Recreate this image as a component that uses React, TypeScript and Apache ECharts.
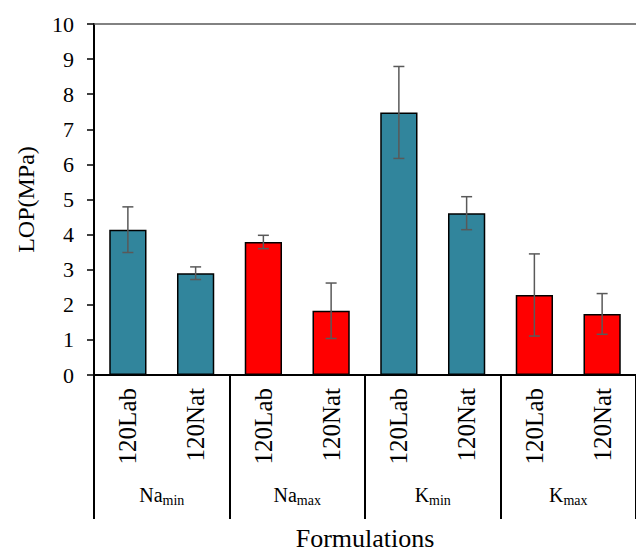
import React, { useEffect, useRef } from "react";
import * as echarts from "echarts";

const categories = ["120Lab", "120Nat", "120Lab", "120Nat", "120Lab", "120Nat", "120Lab", "120Nat"];
const groups = ["Na{sub|min}", "Na{sub|max}", "K{sub|min}", "K{sub|max}"];
const values = [4.14, 2.9, 3.79, 1.83, 7.48, 4.61, 2.28, 1.74];
const errors = [0.65, 0.18, 0.19, 0.79, 1.31, 0.47, 1.17, 0.58];
const barColors = ["#31859C", "#31859C", "#FF0000", "#FF0000", "#31859C", "#31859C", "#FF0000", "#FF0000"];
const yTicks = { min: 0, max: 10, interval: 1 };

const FONT = "Liberation Serif";

export default function App() {
  const ref = useRef<HTMLDivElement>(null);
  useEffect(() => {
    if (!ref.current) return;
    const chart = echarts.init(ref.current, null, { renderer: "svg" });
    const grid = { left: 94, top: 24, width: 555, height: 357 };
    chart.setOption({
      animation: false,
      backgroundColor: "#ffffff",
      textStyle: { fontFamily: FONT },
      grid,
      xAxis: [
        {
          type: "category",
          data: categories,
          position: "bottom",
          axisLine: { show: true, lineStyle: { color: "#000", width: 2 } },
          axisTick: { show: false },
          axisLabel: {
            rotate: 90,
            margin: 13,
            fontFamily: FONT,
            fontSize: 25,
            color: "#000",
            interval: 0,
          },
        },
        {
          type: "category",
          data: groups,
          position: "bottom",
          offset: 0,
          axisLine: { show: false },
          axisTick: { show: true, length: 144, lineStyle: { color: "#000", width: 2 } },
          axisLabel: {
            margin: 108,
            interval: 0,
            color: "#000",
            fontFamily: FONT,
            fontSize: 20,
            rich: {
              sub: { fontSize: 14, fontFamily: FONT, color: "#000", padding: [10, 0, 0, 0] },
            },
          },
          name: "Formulations",
          nameLocation: "middle",
          nameGap: 150,
          nameTextStyle: { fontFamily: FONT, fontSize: 26, color: "#000" },
        },
        {
          type: "category",
          data: categories,
          position: "top",
          axisLine: { show: true, lineStyle: { color: "#595959", width: 1.5 } },
          axisTick: { show: false },
          axisLabel: { show: false },
        },
      ],
      yAxis: {
        type: "value",
        min: yTicks.min,
        max: yTicks.max,
        interval: yTicks.interval,
        axisLine: { show: true, lineStyle: { color: "#000", width: 2 } },
        axisTick: { show: true, length: 7, lineStyle: { color: "#000", width: 1.5 } },
        splitLine: { show: false },
        axisLabel: { fontFamily: FONT, fontSize: 22, color: "#000", margin: 20 },
        name: "LOP(MPa)",
        nameLocation: "middle",
        nameGap: 56,
        nameTextStyle: { fontFamily: FONT, fontSize: 24, color: "#000" },
      },
      series: [
        {
          type: "bar",
          xAxisIndex: 0,
          data: values.map((v, i) => ({
            value: v,
            itemStyle: { color: barColors[i], borderColor: "#000", borderWidth: 1.5 },
          })),
          barWidth: "55%",
        },
        {
          type: "custom",
          xAxisIndex: 0,
          data: values.map((v, i) => [i, v - errors[i], v + errors[i]]),
          renderItem: (params: any, api: any) => {
            const x = api.value(0);
            const lo = api.coord([x, api.value(1)]);
            const hi = api.coord([x, api.value(2)]);
            const hw = 5.5;
            const style = { stroke: "#595959", lineWidth: 1.5, fill: "none" };
            return {
              type: "group",
              children: [
                { type: "line", shape: { x1: lo[0], y1: lo[1], x2: hi[0], y2: hi[1] }, style },
                { type: "line", shape: { x1: hi[0] - hw, y1: hi[1], x2: hi[0] + hw, y2: hi[1] }, style },
                { type: "line", shape: { x1: lo[0] - hw, y1: lo[1], x2: lo[0] + hw, y2: lo[1] }, style },
              ],
            };
          },
          z: 10,
        },
      ],
    });
    return () => chart.dispose();
  }, []);
  return (
    <div
      ref={ref}
      style={{ position: "fixed", left: 0, top: 0, width: 636, height: 556 }}
    />
  );
}
